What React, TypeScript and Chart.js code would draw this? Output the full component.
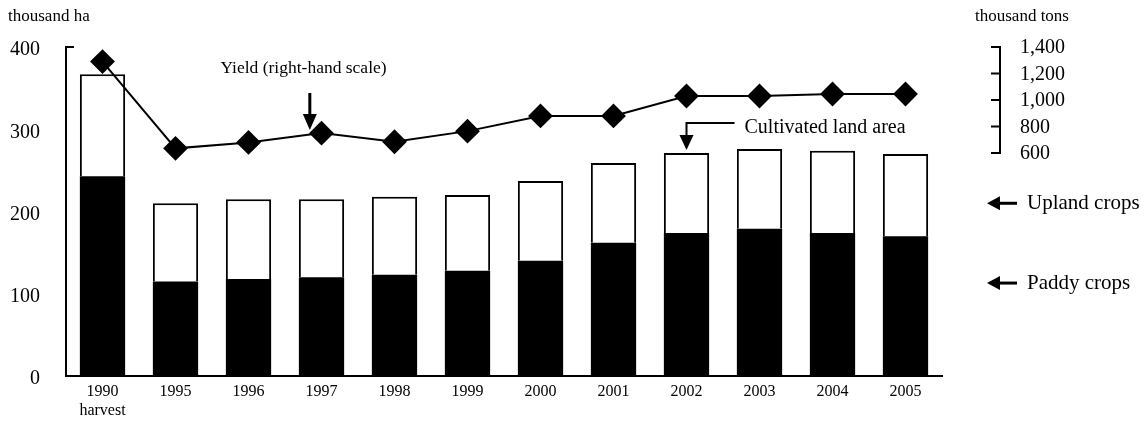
import React, { useEffect, useRef } from 'react';
import { Chart, registerables } from 'chart.js';
Chart.register(...registerables);

const categories: (string | string[])[] = [['1990', 'harvest'], '1995', '1996', '1997', '1998', '1999', '2000', '2001', '2002', '2003', '2004', '2005'];
const paddyCrops = [243, 115, 118, 120, 123, 128, 140, 162, 174, 179, 174, 170];
const uplandCrops = [124, 95, 97, 95, 95, 92, 97, 97, 97, 97, 100, 100];
const yieldTons = [1290, 635, 680, 750, 685, 765, 880, 880, 1030, 1030, 1045, 1045];
const leftTicks = [0, 100, 200, 300, 400];
const rightTicks = [600, 800, 1000, 1200, 1400];

const FONT = "'Liberation Serif', 'Times New Roman', serif";

const annotations = {
  id: 'annotations',
  afterDraw(chart: any) {
    const { ctx, chartArea } = chart;
    const xs = chart.scales.x;
    const ys = chart.scales.y;
    const y1 = chart.scales.y1;
    ctx.save();
    ctx.fillStyle = '#000';
    ctx.strokeStyle = '#000';

    // unit labels
    ctx.font = `17px ${FONT}`;
    ctx.textBaseline = 'alphabetic';
    ctx.textAlign = 'left';
    ctx.fillText('thousand ha', 8, 21);
    const ra = chartArea.right + 58;
    ctx.fillText('thousand tons', ra - 25, 21);

    // left tick labels
    ctx.font = `20px ${FONT}`;
    ctx.textAlign = 'right';
    ctx.textBaseline = 'middle';
    leftTicks.forEach((v) => {
      ctx.fillText(String(v), chartArea.left - 26, ys.getPixelForValue(v) + 3);
    });

    // small top tick on left axis
    ctx.lineWidth = 2;
    ctx.beginPath();
    ctx.moveTo(chartArea.left, ys.getPixelForValue(400));
    ctx.lineTo(chartArea.left + 8, ys.getPixelForValue(400));
    ctx.stroke();

    // right-hand axis
    const yTop = y1.getPixelForValue(rightTicks[rightTicks.length - 1]);
    const yBot = y1.getPixelForValue(rightTicks[0]);
    ctx.beginPath();
    ctx.moveTo(ra, yTop - 1);
    ctx.lineTo(ra, yBot + 1);
    ctx.stroke();
    ctx.textAlign = 'left';
    rightTicks.forEach((v) => {
      const py = y1.getPixelForValue(v);
      ctx.beginPath();
      ctx.moveTo(ra - 9, py);
      ctx.lineTo(ra, py);
      ctx.stroke();
      ctx.fillText(v.toLocaleString('en-US'), ra + 20, py + 1);
    });

    const step = xs.getPixelForValue(1) - xs.getPixelForValue(0);

    // Yield label + down arrow
    ctx.font = `17.5px ${FONT}`;
    ctx.textAlign = 'center';
    ctx.fillText('Yield (right-hand scale)', xs.getPixelForValue(2) + 55, 68);
    const ax = xs.getPixelForValue(2) + step * 0.84;
    ctx.lineWidth = 3;
    ctx.beginPath();
    ctx.moveTo(ax, 93);
    ctx.lineTo(ax, 116);
    ctx.stroke();
    ctx.beginPath();
    ctx.moveTo(ax - 7, 114);
    ctx.lineTo(ax + 7, 114);
    ctx.lineTo(ax, 130);
    ctx.closePath();
    ctx.fill();

    // Cultivated land area
    const cx = xs.getPixelForValue(8);
    const topY = ys.getPixelForValue(paddyCrops[8] + uplandCrops[8]);
    ctx.lineWidth = 2;
    ctx.beginPath();
    ctx.moveTo(cx + 48, 123);
    ctx.lineTo(cx, 123);
    ctx.lineTo(cx, topY - 14);
    ctx.stroke();
    ctx.beginPath();
    ctx.moveTo(cx - 7, topY - 18);
    ctx.lineTo(cx + 7, topY - 18);
    ctx.lineTo(cx, topY - 3);
    ctx.closePath();
    ctx.fill();
    ctx.font = `20px ${FONT}`;
    ctx.textAlign = 'left';
    ctx.fillText('Cultivated land area', cx + 58, 128);

    // Upland / Paddy arrows
    const drawLeftArrow = (y: number, label: string) => {
      const tip = chartArea.right + 45;
      ctx.lineWidth = 3;
      ctx.beginPath();
      ctx.moveTo(tip + 10, y);
      ctx.lineTo(tip + 30, y);
      ctx.stroke();
      ctx.beginPath();
      ctx.moveTo(tip, y);
      ctx.lineTo(tip + 13, y - 7);
      ctx.lineTo(tip + 13, y + 7);
      ctx.closePath();
      ctx.fill();
      ctx.font = `21px ${FONT}`;
      ctx.textAlign = 'left';
      ctx.fillText(label, tip + 40, y);
    };
    drawLeftArrow(ys.getPixelForValue(210), 'Upland crops');
    drawLeftArrow(ys.getPixelForValue(113), 'Paddy crops');

    ctx.restore();
  },
};

export default function App() {
  const ref = useRef<HTMLCanvasElement>(null);
  useEffect(() => {
    if (!ref.current) return;
    const chart = new Chart(ref.current, {
      type: 'bar',
      data: {
        labels: categories,
        datasets: [
          {
            type: 'line',
            label: 'Yield',
            data: yieldTons,
            yAxisID: 'y1',
            borderColor: '#000',
            backgroundColor: '#000',
            borderWidth: 2,
            pointStyle: 'rectRot',
            pointRadius: 11,
            pointBackgroundColor: '#000',
            pointBorderColor: '#000',
            order: 0,
          } as any,
          {
            label: 'Paddy crops',
            data: paddyCrops,
            backgroundColor: '#000',
            borderColor: '#000',
            borderWidth: 0,
            stack: 's',
            order: 2,
            categoryPercentage: 1,
            barPercentage: 0.62,
          },
          {
            label: 'Upland crops',
            data: uplandCrops,
            backgroundColor: '#fff',
            borderColor: '#000',
            borderWidth: { top: 2, left: 2, right: 2, bottom: 0 },
            borderSkipped: false,
            stack: 's',
            order: 3,
            categoryPercentage: 1,
            barPercentage: 0.62,
          },
        ],
      },
      options: {
        animation: false,
        responsive: true,
        maintainAspectRatio: false,
        layout: { padding: { top: 47, right: 206, left: 0, bottom: 0 } },
        plugins: { legend: { display: false }, tooltip: { enabled: false }, title: { display: false } },
        scales: {
          x: {
            stacked: true,
            grid: { display: false, drawTicks: false },
            border: { color: '#000', width: 2 },
            ticks: { color: '#000', font: { family: FONT, size: 16 }, padding: 6, maxRotation: 0, autoSkip: false },
            afterFit: (s: any) => { s.height = 45; },
          },
          y: {
            stacked: true,
            min: 0,
            max: 400,
            grid: { display: false, drawTicks: false },
            border: { color: '#000', width: 2 },
            ticks: { display: false, stepSize: 100 },
            afterFit: (s: any) => { s.width = 66; },
          },
          y1: {
            display: false,
            min: -1083,
            max: 1400,
          },
        },
      },
      plugins: [annotations],
    });
    return () => chart.destroy();
  }, []);
  return (
    <div style={{ position: 'absolute', left: 0, top: 0, width: 1148, height: 421 }}>
      <canvas ref={ref} />
    </div>
  );
}
